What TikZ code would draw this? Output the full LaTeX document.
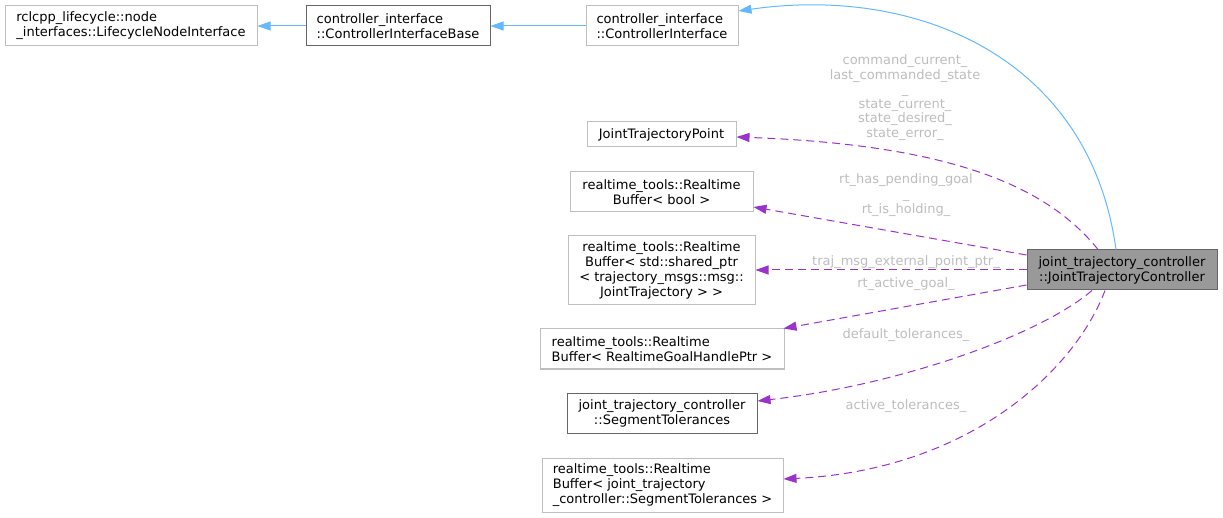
\documentclass[tikz,border=0pt]{standalone}
\usepackage{fontspec}
\setmainfont{DejaVu Sans}
\usepackage{tikz}
\usetikzlibrary{arrows.meta,positioning,calc}
\definecolor{edgeblue}{HTML}{63B8FF}
\definecolor{edgepurple}{HTML}{9A32CD}
\definecolor{boxgray}{HTML}{BFBFBF}
\definecolor{boxdark}{HTML}{666666}
\definecolor{labelgray}{HTML}{BDBDBD}
\definecolor{curfill}{HTML}{999999}

\begin{document}
\begin{tikzpicture}[x=1pt,y=-1pt,
    every node/.style={font=\fontsize{13}{15}\selectfont, inner sep=0pt},
    classbox/.style={draw=boxgray, line width=1pt, minimum height=40pt},
    darkbox/.style={classbox, draw=boxdark},
    inherits/.style={draw=edgeblue, line width=1pt, -{Triangle[length=13pt,width=9pt]}},
    uses/.style={draw=edgepurple, line width=1pt, dash pattern=on 8pt off 5pt, -{Triangle[length=13pt,width=9pt]}},
    memberlabel/.style={text=labelgray, align=center, font=\fontsize{13}{14.6}\selectfont}]
    \useasboundingbox (0,0) rectangle (1223,518);

    \node[classbox, minimum width=252pt, align=left] (life) at (131,26) {rclcpp\_lifecycle::node\\\_interfaces::LifecycleNodeInterface};
    \node[darkbox, minimum width=184pt, align=left] (base) at (398,26) {controller\_interface\\::ControllerInterfaceBase};
    \node[classbox, minimum width=152pt, align=left] (ci) at (662,26) {controller\_interface\\::ControllerInterface};

    \node[classbox, minimum width=149pt, minimum height=25pt] (jtp) at (661.5,134.5) {JointTrajectoryPoint};
    \node[classbox, minimum width=183pt, align=center] (rbbool) at (661.5,192) {realtime\_tools::Realtime\\Buffer< bool >};
    \node[classbox, minimum width=187pt, minimum height=69pt, align=center] (rbptr) at (661.5,270.5) {realtime\_tools::Realtime\\Buffer< std::shared\_ptr\\< trajectory\_msgs::msg::\\JointTrajectory > >};
    \node[classbox, minimum width=244pt, align=left] (rbgoal) at (662,349) {realtime\_tools::Realtime\\Buffer< RealtimeGoalHandlePtr >};
    \node[darkbox, minimum width=190pt, align=center] (segtol) at (662,413) {joint\_trajectory\_controller\\::SegmentTolerances};
    \node[classbox, minimum width=241pt, minimum height=54pt, align=left] (rbtol) at (662.5,485) {realtime\_tools::Realtime\\Buffer< joint\_trajectory\\\_controller::SegmentTolerances >};

    \node[darkbox, fill=curfill, minimum width=190pt, align=center] (jtc) at (1122,270) {joint\_trajectory\_controller\\::JointTrajectoryController};

    \draw[inherits] (base) -- (life);
    \draw[inherits] (ci) -- (base);
    \draw[inherits] ([xshift=-6pt]jtc.north) .. controls (1090,60) and (920,-15) .. ([yshift=15pt]ci.east);

    \draw[uses] ([xshift=-24pt]jtc.north) .. controls (1050,190) and (960,145) .. ([yshift=-2.5pt]jtp.east);
    \draw[uses] ([yshift=15pt]jtc.west) -- ([yshift=-15pt]rbbool.east);
    \draw[uses] (jtc.west) -- (jtc.west -| rbptr.east);
    \draw[uses] ([yshift=-15pt]jtc.west) -- ([xshift=-1pt]rbgoal.north east);
    \draw[uses] ([xshift=-30pt]jtc.south) .. controls (1040,335) and (900,385) .. ([yshift=12pt]segtol.east);
    \draw[uses] ([xshift=-17pt]jtc.south) .. controls (1075,370) and (970,470) .. ([yshift=6pt]rbtol.east);

    \node[memberlabel] (lbljtp) at (905,97.5) {command\_current\_\\last\_commanded\_state\\\_\\state\_current\_\\state\_desired\_\\state\_error\_};
    \node[memberlabel] (lblbool) at (906,195) {rt\_has\_pending\_goal\\\_\\rt\_is\_holding\_};
    \node[memberlabel] (lblptr) at (906,262) {traj\_msg\_external\_point\_ptr\_};
    \node[memberlabel] (lblgoal) at (906,284) {rt\_active\_goal\_};
    \node[memberlabel] (lblseg) at (906,335) {default\_tolerances\_};
    \node[memberlabel] (lbltol) at (906,406) {active\_tolerances\_};
\end{tikzpicture}
\end{document}
